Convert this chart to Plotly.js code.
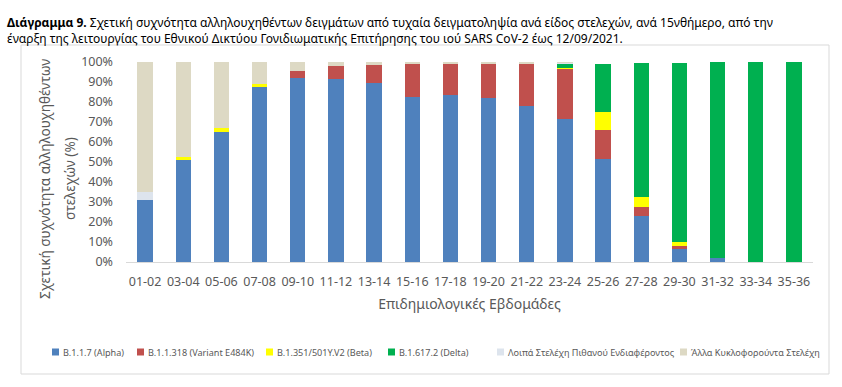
<!DOCTYPE html>
<html>
<head>
<meta charset="utf-8">
<script src="https://cdn.plot.ly/plotly-3.0.1.min.js"></script>
<style>
  html, body { margin: 0; padding: 0; background: #ffffff; }
  #chart { width: 842px; height: 387px; }
</style>
</head>
<body>
<div id="chart"></div>
<script>
// ---- Data (percent of sequenced samples) ----
var weeks = ["01-02","03-04","05-06","07-08","09-10","11-12","13-14","15-16","17-18",
             "19-20","21-22","23-24","25-26","27-28","29-30","31-32","33-34","35-36"];

var alpha   = [31.0, 51.0, 65.2, 87.3, 92.0, 91.3, 89.5, 82.4, 83.3, 81.8, 78.1, 71.4, 51.5, 23.1, 6.5, 1.9, 0, 0];
var e484k   = [0, 0, 0, 0, 3.5, 6.5, 8.8, 16.4, 15.5, 17.0, 20.9, 25.2, 14.5, 4.5, 1.4, 0.3, 0, 0];
var beta    = [0, 1.6, 1.7, 1.6, 0, 0, 0, 0, 0, 0, 0, 0.5, 9.0, 5.0, 2.0, 0, 0, 0];
var delta   = [0, 0, 0, 0.2, 0, 0, 0, 0, 0.2, 0, 0, 1.7, 24.0, 66.8, 89.6, 97.6, 100, 100];
var otherVOI = [4.0, 0, 0, 0, 0, 0, 0, 0, 0, 0, 0, 0.6, 0, 0, 0, 0, 0, 0];
var otherCirc = [65.0, 47.4, 33.1, 10.9, 4.5, 2.2, 1.7, 1.2, 1.0, 1.2, 1.0, 0.6, 0, 0, 0, 0.2, 0, 0];

var seriesNames = ["B.1.1.7 (Alpha)", "B.1.1.318 (Variant E484K)", "B.1.351/501Y.V2 (Beta)",
                   "B.1.617.2 (Delta)", "Λοιπά Στελέχη Πιθανού Ενδιαφέροντος", "Άλλα Κυκλοφορούντα Στελέχη"];
var yTicks = [0,10,20,30,40,50,60,70,80,90,100];
var yTitleLines = ["Σχετική συχνότητα αλληλουχηθέντων", "στελεχών (%)"];

// ---- Styles ----
var colors = ["#4f81bd", "#c0504d", "#ffff00", "#00b050", "#dde4ed", "#ddd9c4"];
var FONT = "Noto Sans, sans-serif";
var values = [alpha, e484k, beta, delta, otherVOI, otherCirc];

var W = 842, H = 387, ML = 126, MR = 29, MT = 62, MB = 125;
var PW = W - ML - MR, PH = H - MT - MB;
function px2x(px) { return (px - ML) / PW; }
function py2y(py) { return (H - MB - py) / PH; }

var traces = values.map(function (v, i) {
  return {
    type: "bar",
    x: weeks,
    y: v,
    name: seriesNames[i],
    marker: { color: colors[i], line: { width: 0 } },
    showlegend: false
  };
});

// chart frame
var shapes = [{
  type: "rect", xref: "paper", yref: "paper",
  x0: px2x(21), x1: px2x(829),
  y0: py2y(374), y1: py2y(45),
  line: { color: "#d9d9d9", width: 1 },
  fillcolor: "rgba(0,0,0,0)",
  layer: "below"
}];
var annotations = [];

// y-axis title (two lines, Excel-like spacing)
var yTitleX = [44, 69];
yTitleLines.forEach(function (t, i) {
  annotations.push({
    xref: "paper", yref: "paper",
    x: px2x(yTitleX[i]), y: py2y(179),
    xanchor: "center", yanchor: "middle",
    textangle: -90, text: t, showarrow: false,
    font: { family: FONT, size: 13.6, color: "#595959" }
  });
});

// custom compact legend
var legendPx = [52, 137, 266, 388, 497, 680];
var legendPy = 352;
seriesNames.forEach(function (name, i) {
  var lx = legendPx[i];
  shapes.push({
    type: "rect", xref: "paper", yref: "paper",
    x0: px2x(lx), x1: px2x(lx + 7),
    y0: py2y(legendPy + 3.5), y1: py2y(legendPy - 3.5),
    line: { width: 0 }, fillcolor: colors[i]
  });
  annotations.push({
    xref: "paper", yref: "paper",
    x: px2x(lx + 9), y: py2y(legendPy),
    xanchor: "left", yanchor: "middle",
    text: name, showarrow: false,
    font: { family: FONT, size: 9.1, color: "#595959" }
  });
});

var layout = {
  width: W,
  height: H,
  barmode: "stack",
  bargap: 0.6,
  paper_bgcolor: "#ffffff",
  plot_bgcolor: "#ffffff",
  margin: { l: ML, r: MR, t: MT, b: MB },
  font: { family: FONT, color: "#595959", size: 12 },
  title: {
    text: "<b>Διάγραμμα 9.</b> Σχετική συχνότητα αλληλουχηθέντων δειγμάτων από τυχαία δειγματοληψία ανά είδος στελεχών, ανά 15νθήμερο, από την<br>έναρξη της λειτουργίας του Εθνικού Δικτύου Γονιδιωματικής Επιτήρησης του ιού SARS CoV-2 έως 12/09/2021.",
    x: 7 / W, xref: "container", xanchor: "left",
    y: 1 - 27 / H, yref: "container", yanchor: "middle",
    font: { family: FONT, size: 12, color: "#000000" }
  },
  xaxis: {
    type: "category",
    tickvals: weeks,
    ticktext: weeks,
    showgrid: false,
    showline: true,
    linecolor: "#d9d9d9",
    linewidth: 1,
    ticks: "",
    ticklabelstandoff: 8,
    tickfont: { size: 12.5, color: "#595959" },
    title: { text: "Επιδημιολογικές Εβδομάδες", font: { size: 14, color: "#595959" }, standoff: 10 },
    fixedrange: true
  },
  yaxis: {
    range: [0, 100],
    tickvals: yTicks,
    ticktext: yTicks.map(function (t) { return t + "%"; }),
    showgrid: false,
    zeroline: false,
    showline: false,
    ticks: "",
    ticklabelstandoff: 12,
    tickfont: { size: 12.5, color: "#595959" },
    fixedrange: true
  },
  showlegend: false,
  shapes: shapes,
  annotations: annotations
};

Plotly.newPlot("chart", traces, layout, { displayModeBar: false, staticPlot: true });
</script>
</body>
</html>
